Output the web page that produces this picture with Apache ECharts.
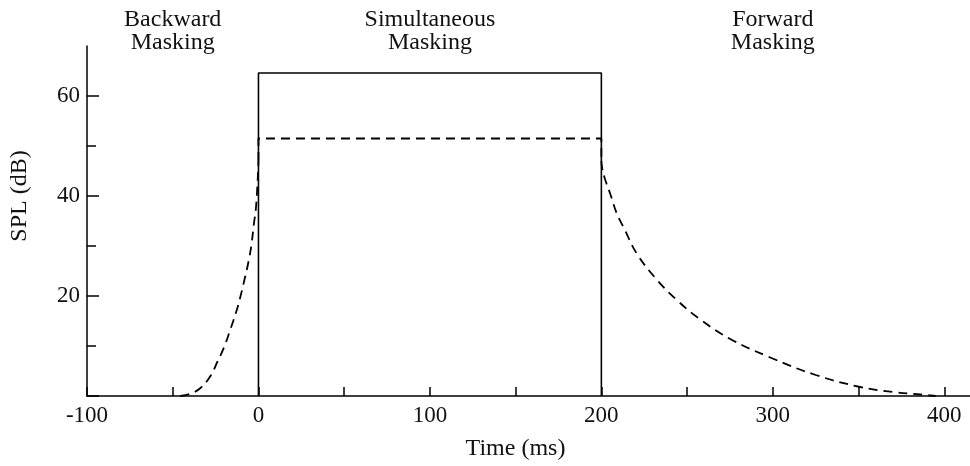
<!DOCTYPE html>
<html>
<head>
<meta charset="utf-8">
<script src="https://cdn.jsdelivr.net/npm/echarts@6/dist/echarts.min.js"></script>
<style>
  html, body { margin: 0; padding: 0; background: #fff; }
  #chart { width: 970px; height: 466px; }
</style>
</head>
<body>
<div id="chart"></div>
<script>
// masker: on from 0 to 200 ms
var maskerX = [0, 0, 200, 200];
var maskerY = [0, 64.6, 64.6, 0];

// threshold curve (ms, dB)
var backX = [-45.5, -40, -33.8, -28, -24, -20, -16.3, -13, -10.5, -8, -5.6, -4, -2.7, -1.5, -0.8, -0.2, 0];
var backY = [0, 0.4, 1.6, 4, 6.8, 9.8, 13.4, 16.8, 19.9, 23.5, 27.2, 30.5, 34.3, 37.5, 41, 45, 47];
var simulX = [0, 0, 200, 200];
var simulY = [47, 51.5, 51.5, 47];
var fwdX = [200, 200.5, 202, 205.3, 209, 213, 220.8, 232.5, 244, 257.7, 275.2, 298.5, 325, 351, 370, 386, 395];
var fwdY = [47, 45.5, 43.5, 40.3, 36.5, 33.7, 28.4, 23.2, 19.2, 15.3, 11.4, 7.7, 4.2, 1.8, 0.8, 0.3, 0];

// ticks and labels
var xTicks = [-100, -50, 0, 50, 100, 150, 200, 250, 300, 350, 400];
var xLabels = [-100, 0, 100, 200, 300, 400];
var yTicks = [0, 20, 40, 60];
var yLabels = [20, 40, 60];

// region labels above the plot
var regionNames = ['Backward\nMasking', 'Simultaneous\nMasking', 'Forward\nMasking'];
var regionAt = [-50, 100, 300];

var font = '"Liberation Serif", "DejaVu Serif", serif';

function pairs(xs, ys) {
  return xs.map(function (x, i) { return [x, ys[i]]; });
}

var dash = { color: '#000', width: 1.8, type: [9, 6] };

var myChart = echarts.init(document.getElementById('chart'));

var option = {
  animation: false,
  grid: { left: 87, right: 0, top: 46, bottom: 65 },
  xAxis: {
    type: 'value',
    min: -100,
    max: 415,
    interval: 50,
    name: 'Time (ms)',
    nameLocation: 'middle',
    nameGap: 41,
    nameTextStyle: { fontFamily: font, fontSize: 24, color: '#111', padding: [0, 26, 0, 0] },
    axisLine: { onZero: false, lineStyle: { color: '#000', width: 1.5 } },
    axisTick: { inside: true, length: 9, customValues: xTicks, lineStyle: { color: '#000', width: 1.5 } },
    axisLabel: { fontFamily: font, fontSize: 23, color: '#111', margin: 8, customValues: xLabels },
    splitLine: { show: false }
  },
  yAxis: {
    type: 'value',
    min: 0,
    max: 70,
    interval: 20,
    name: 'SPL (dB)',
    nameLocation: 'middle',
    nameGap: 55,
    nameTextStyle: { fontFamily: font, fontSize: 24, color: '#111', padding: [0, 0, 0, 50] },
    axisLine: { show: true, onZero: false, lineStyle: { color: '#000', width: 1.5 } },
    axisTick: { inside: true, length: 12, customValues: yTicks, lineStyle: { color: '#000', width: 1.5 } },
    minorTick: { show: true, splitNumber: 2, length: 9, lineStyle: { color: '#000', width: 1.5 } },
    axisLabel: { fontFamily: font, fontSize: 23, color: '#111', margin: 7, customValues: yLabels },
    splitLine: { show: false }
  },
  series: [
    {
      type: 'line',
      data: pairs(maskerX, maskerY),
      symbol: 'none',
      lineStyle: { color: '#000', width: 1.6 }
    },
    {
      type: 'line',
      data: pairs(backX, backY),
      symbol: 'none',
      smooth: 0.4,
      lineStyle: dash
    },
    {
      type: 'line',
      data: pairs(simulX, simulY),
      symbol: 'none',
      lineStyle: dash
    },
    {
      type: 'line',
      data: pairs(fwdX, fwdY),
      symbol: 'none',
      smooth: 0.4,
      lineStyle: dash
    }
  ]
};

myChart.setOption(option);

// put the region labels over their time positions
var labels = regionNames.map(function (t, i) {
  var px = myChart.convertToPixel({ xAxisIndex: 0 }, regionAt[i]);
  return {
    type: 'text',
    x: px,
    y: 8,
    style: {
      text: t,
      fontFamily: font,
      fontSize: 24,
      lineHeight: 23,
      fill: '#111',
      align: 'center',
      verticalAlign: 'top'
    }
  };
});
myChart.setOption({ graphic: labels });
</script>
</body>
</html>
